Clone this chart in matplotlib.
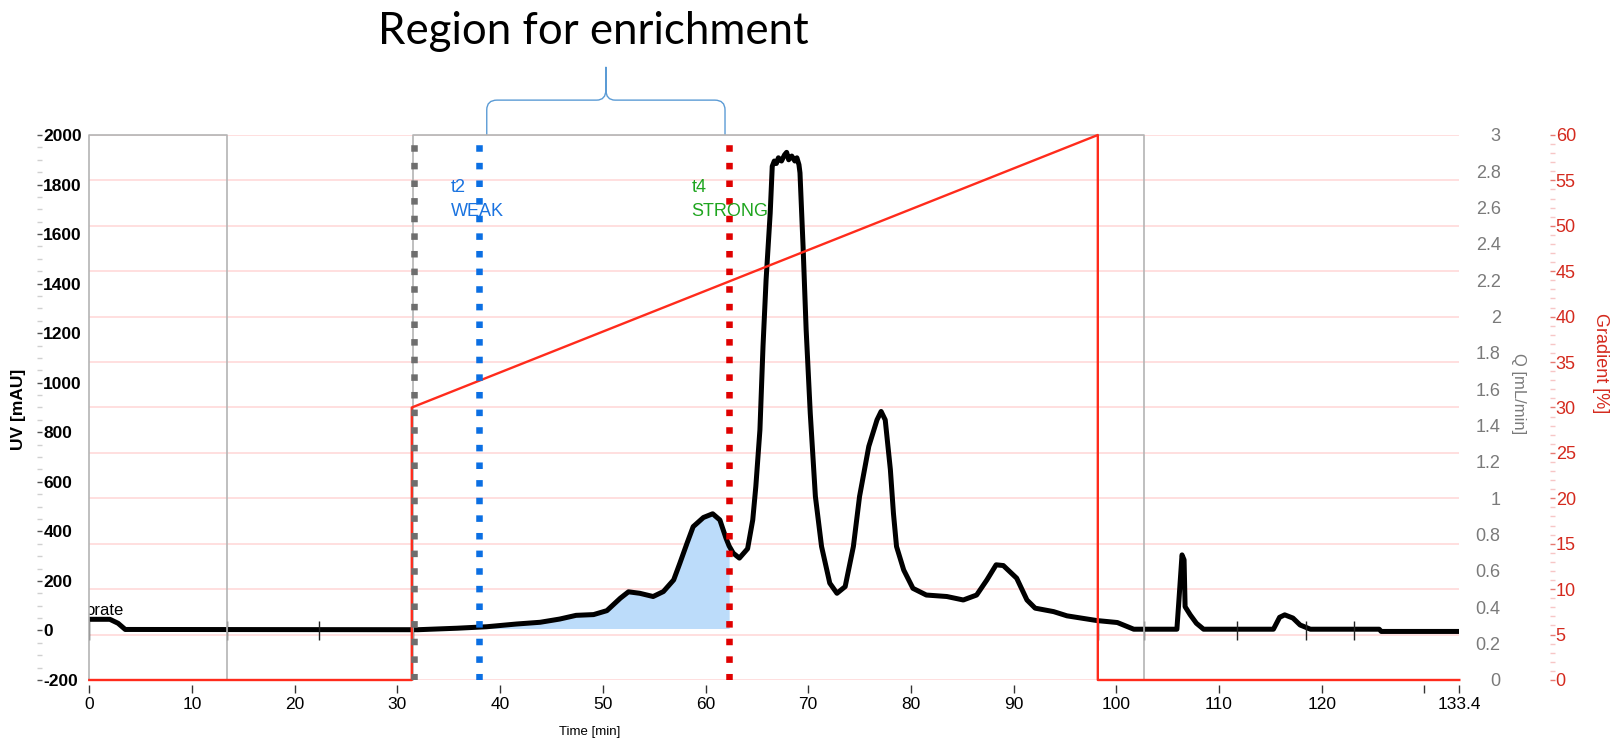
import matplotlib
matplotlib.use('Agg')
import matplotlib.pyplot as plt
import numpy as np
from matplotlib.path import Path
from matplotlib.patches import PathPatch
from matplotlib.ticker import MultipleLocator, FuncFormatter
import matplotlib.transforms as mtransforms

plt.rcParams['font.family'] = ['Liberation Sans', 'DejaVu Sans']
plt.rcParams['axes.unicode_minus'] = False

# UV trace [mAU]
time_uv = [0.0, 2.0, 2.8, 3.5, 32.0, 35.8, 38.7, 41.6, 43.9, 45.8, 47.4, 49.1,
           50.4, 51.7, 52.5, 53.6, 54.9, 55.9, 56.9, 57.5, 58.2, 58.8, 59.8,
           60.7, 61.4, 62.0, 62.3, 62.7, 63.3, 64.1, 64.6, 64.9, 65.3, 65.6,
           65.9, 66.3, 66.5, 66.7, 66.9, 67.1, 67.4, 67.7, 67.9, 68.1, 68.4,
           68.7, 68.9, 69.1, 69.2, 69.5, 69.8, 70.2, 70.7, 71.3, 72.1, 72.8,
           73.6, 74.4, 75.0, 75.9, 76.7, 77.1, 77.5, 78.0, 78.3, 78.6, 79.3,
           80.2, 81.5, 83.5, 85.1, 86.4, 87.4, 88.3, 89.0, 90.3, 91.3, 92.1,
           93.9, 95.2, 98.1, 100.1, 101.7, 105.9, 106.1, 106.4, 106.6, 106.7,
           107.2, 107.8, 108.5, 115.3, 115.9, 116.4, 117.2, 117.9, 118.9,
           125.6, 125.8, 133.4]
uv = [45, 45, 29, 4, 3, 9, 15, 26, 33, 46, 61, 64,
      80, 130, 156, 150, 137, 157, 204, 271, 352, 419, 456,
      471, 446, 372, 341, 312, 292, 330, 446, 581, 810, 1147,
      1416, 1685, 1874, 1895, 1885, 1908, 1895, 1920, 1930, 1900, 1915,
      1895, 1908, 1880, 1847, 1551, 1214, 877, 541, 339, 191, 150,
      177, 339, 541, 743, 850, 884, 850, 650, 473, 339, 244,
      170, 143, 137, 123, 143, 204, 265, 262, 211, 123, 90,
      76, 59, 40, 32, 5, 5, 123, 305, 285, 96,
      63, 29, 5, 5, 53, 63, 50, 22, 5,
      5, -4, -4]

# flow rate Q [mL/min]
time_q = [0, 0, 13.4, 13.4, 31.5, 31.5, 102.7, 102.7, 133.4]
flow_q = [0, 3, 3, 0, 0, 3, 3, 0, 0]

# gradient [%]
time_grad = [0, 31.4, 31.4, 98.2, 98.2, 133.4]
grad = [0, 0, 30, 60, 0, 0]

# marker lines and fraction events
t_start = 31.6
t2 = 37.9
t4 = 62.3
fill_base = 8
events = [0, 13.4, 22.4, 31.5, 98.2, 102.7, 111.8, 118.5, 123.1]

xticks = [0, 10, 20, 30, 40, 50, 60, 70, 80, 90, 100, 110, 120, 130, 133.4]
xticklabels = ['0', '10', '20', '30', '40', '50', '60', '70', '80', '90',
               '100', '110', '120', '', '133.4']

fig = plt.figure(figsize=(16.17, 7.42), dpi=100)
axg = fig.add_axes([0.05523, 0.08356, 0.84725, 0.73450])
axq = axg.twinx()
ax = axg.twinx()

for a in (axg, axq, ax):
	for s in a.spines.values():
		s.set_visible(False)

# gradient axis (far right) + pink grid
axg.yaxis.tick_right()
axg.yaxis.set_label_position('right')
axg.spines['right'].set_position(('outward', 65.3))
axg.set_xlim(0, 133.4)
axg.set_ylim(0, 60)
axg.yaxis.set_major_locator(MultipleLocator(5))
axg.yaxis.set_minor_locator(MultipleLocator(1))
axg.tick_params(axis='y', which='major', direction='out', length=3.6, width=1,
                color='#e77a72', labelcolor='#d42a1e', labelsize=13, pad=0.5)
axg.tick_params(axis='y', which='minor', direction='out', length=3.6, width=1,
                color='#f7c6c6')
axg.yaxis.grid(True, which='major', color='#ffd9d9', lw=1.2)
axg.set_ylabel('Gradient [%]', color='#d42a1e', fontsize=13, rotation=270,
               ha='center', va='center')
axg.yaxis.set_label_coords(1.1028, 0.581)

# time axis
axg.spines['bottom'].set_position(('outward', 3.6))
axg.set_xticks(xticks)
axg.set_xticklabels(xticklabels)
axg.tick_params(axis='x', direction='out', length=5.8, width=1, color='#333333',
                labelsize=12.5, pad=3)
axg.set_xlabel('Time [min]', fontsize=9.5, va='center')
axg.xaxis.set_label_coords(0.3655, -0.0954)

# flow rate axis
axq.set_ylim(0, 3)
axq.yaxis.set_major_locator(MultipleLocator(0.2))
axq.yaxis.set_major_formatter(FuncFormatter(lambda v, p: f'{v:.1f}'.rstrip('0').rstrip('.')))
axq.tick_params(axis='y', length=0, pad=29.8, labelcolor='#7a7a7a', labelsize=13)
for tk in axq.yaxis.get_major_ticks():
	tk.label2.set_horizontalalignment('right')
axq.set_ylabel('Q [mL/min]', color='#7a7a7a', fontsize=12, rotation=270,
               ha='center', va='center')
axq.yaxis.set_label_coords(1.0429, 0.525)

# UV axis (left)
ax.yaxis.tick_left()
ax.yaxis.set_label_position('left')
ax.spines['left'].set_position(('outward', 37.4))
ax.set_ylim(-200, 2000)
ax.yaxis.set_major_locator(MultipleLocator(200))
ax.yaxis.set_minor_locator(MultipleLocator(50))
ax.tick_params(axis='y', which='major', direction='in', length=3.6, width=1,
               color='#555555', labelsize=12.5, pad=-4.3)
ax.tick_params(axis='y', which='minor', direction='in', length=3.6, width=1,
               color='#d0d0d0')
for tk in ax.yaxis.get_major_ticks():
	tk.label1.set_horizontalalignment('left')
	tk.label1.set_fontweight('bold')
ax.set_ylabel('UV [mAU]', fontsize=12.5, fontweight='bold', rotation=90,
              ha='center', va='center')
ax.yaxis.set_label_coords(-0.0517, 0.496)

# traces
tu = np.array(time_uv)
ax.fill_between(tu, uv, fill_base, where=(tu >= t2) & (tu <= t4),
                color='#bcdcfa', lw=0, zorder=2)
ax.plot(time_uv, uv, color='black', lw=3.6, zorder=3)
ax.vlines(events, -40, 40, colors='#222222', lw=1, zorder=3.5)
ax.plot(time_q, flow_q, transform=axq.transData, color='#b4b4b4', lw=1.2,
        zorder=4, clip_on=False)
ax.plot(time_grad, grad, transform=axg.transData, color='#ff2b1c', lw=1.7,
        zorder=5, clip_on=False)

for tx, c in ((t_start, '#6e6e6e'), (t2, '#0b6fe3'), (t4, '#e00000')):
	ax.axvline(tx, color=c, lw=4.7, ls=(0, (1, 1.7)), dash_capstyle='butt',
	           zorder=6)

ax.text(t2 - 2.7, 1788, 't2', color='#1a73e0', fontsize=13, va='center', zorder=7)
ax.text(t2 - 2.7, 1692, 'WEAK', color='#1a73e0', fontsize=13, va='center', zorder=7)
ax.text(t4 - 3.65, 1788, 't4', color='#1fa51f', fontsize=13, va='center', zorder=7)
ax.text(t4 - 3.65, 1692, 'STRONG', color='#1fa51f', fontsize=13, va='center', zorder=7)
ax.text(-0.35, 63, 'orate', fontsize=12, va='baseline', ha='left', clip_on=True)

axg.set_xlim(0, 133.4)

# curly brace over the enrichment region
trans = mtransforms.blended_transform_factory(ax.transData, ax.transAxes)
bl = t2 + 0.8
br = t4 - 0.4
mid = (bl + br) / 2
dx = 1.0
dx2 = 0.9
y0, y1, yb, y2, ytip = 1.0, 1.046, 1.064, 1.083, 1.125
verts = [(bl, y0), (bl, y1), (bl, yb), (bl + dx, yb), (mid - dx2, yb),
         (mid, yb), (mid, y2), (mid, ytip), (mid, y2), (mid, yb),
         (mid + dx2, yb), (br - dx, yb), (br, yb), (br, y1), (br, y0)]
codes = [Path.MOVETO, Path.LINETO, Path.CURVE3, Path.CURVE3, Path.LINETO,
         Path.CURVE3, Path.CURVE3, Path.LINETO, Path.LINETO, Path.CURVE3,
         Path.CURVE3, Path.LINETO, Path.CURVE3, Path.CURVE3, Path.LINETO]
brace = PathPatch(Path(verts, codes), transform=trans, fill=False,
                  edgecolor='#5b9bd5', lw=1.0, clip_on=False)
ax.add_patch(brace)

fig.text(0.3667, 0.958, 'Region for enrichment', fontsize=31.5,
         family=['Lato', 'DejaVu Sans'], ha='center', va='center')

fig.savefig('out.png', dpi=100)
